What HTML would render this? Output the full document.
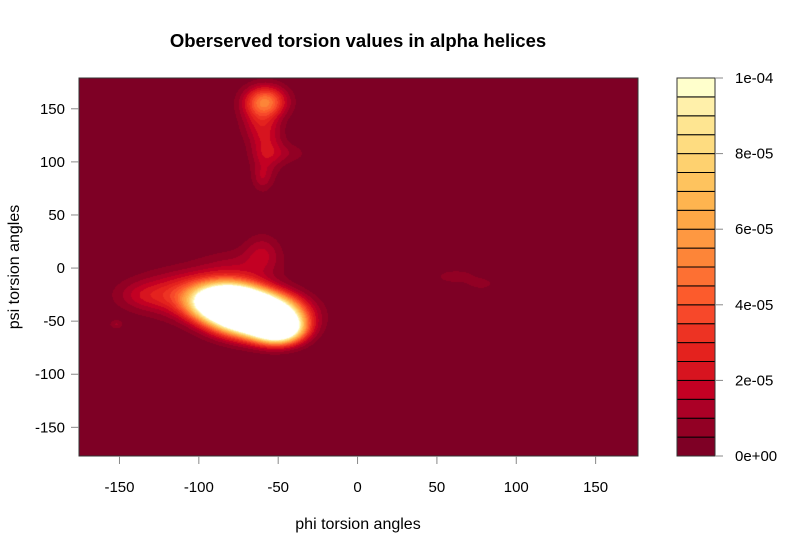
<!DOCTYPE html>
<html><head><meta charset="utf-8"><style>
body{margin:0;background:#fff;}
svg text{font-family:"Liberation Sans",sans-serif;}
</style></head><body>
<div style="position:relative;width:794px;height:555px">
<canvas id="cv" width="559" height="378" style="position:absolute;left:79px;top:78px"></canvas>
<svg id="sv" width="794" height="555" style="position:absolute;left:0;top:0"></svg>
</div>
<script>
// density model components (degrees): centers, spreads, amplitudes
const compPhi = [-82,-64,-50,-105,-135,-152,-60,-75,-58,-62,-56,-46,-60,-60,62,78];
const compPsi = [-32,-44,-57,-24,-26,-53,15,0,157,138,115,108,85,100,-8,-15];
const compSx  = [14,16,10,22,12,3,8,18,9,8,7,11,4,6,10,6];
const compSy  = [11,12,9,14,9,3,12,12,10,14,18,7,8,20,5,4];
const compAmp = [2.0e-4,2.5e-4,1.5e-4,3.0e-5,1.0e-5,1.0e-5,1.3e-5,1.1e-5,4.6e-5,1.6e-5,1.2e-5,8e-6,8e-6,6e-6,8e-6,7e-6];
const levelColors = ['#7E0025','#920024','#AB0026','#C30023','#D7141F','#E4221E','#ED3323','#F7482A','#FC5B2C','#FD7033','#FD8538','#FE9841','#FEA746','#FEB44F','#FEC35E','#FED16F','#FEDC80','#FEE591','#FFF0AA','#FFFFCC'];
const xTicks = [-150,-100,-50,0,50,100,150];
const yTicks = [-150,-100,-50,0,50,100,150];
const legendTicks = [0,2e-5,4e-5,6e-5,8e-5,1e-4];
const legendLabels = ['0e+00','2e-05','4e-05','6e-05','8e-05','1e-04'];
const zMax = 1e-4;

const PL=79,PR=638,PT=78,PB=456, XMIN=-175.5,XMAX=176.7,YMIN=-177,YMAX=179;
const xs=v=>PL+(v-XMIN)/(XMAX-XMIN)*(PR-PL);
const ys=v=>PB-(v-YMIN)/(YMAX-YMIN)*(PB-PT);
function dens(p,q){let s=0;for(let i=0;i<compPhi.length;i++){const a=(p-compPhi[i])/compSx[i],b=(q-compPsi[i])/compSy[i];s+=compAmp[i]*Math.exp(-0.5*(a*a+b*b));}return s;}
function hex(c){return [parseInt(c.slice(1,3),16),parseInt(c.slice(3,5),16),parseInt(c.slice(5,7),16)];}
const rgb=levelColors.map(hex);
const cv=document.getElementById('cv'),ctx=cv.getContext('2d');
const W=cv.width,H=cv.height,img=ctx.createImageData(W,H);
for(let j=0;j<H;j++)for(let i=0;i<W;i++){
  const p=XMIN+(i+0.5)/W*(XMAX-XMIN), q=YMAX-(j+0.5)/H*(YMAX-YMIN);
  const z=dens(p,q); let k=Math.floor(z/zMax*levelColors.length);
  let c=k>=levelColors.length?[255,255,255]:rgb[Math.max(0,k)];
  const o=(j*W+i)*4; img.data[o]=c[0];img.data[o+1]=c[1];img.data[o+2]=c[2];img.data[o+3]=255;}
ctx.putImageData(img,0,0);

const sv=document.getElementById('sv'),NS='http://www.w3.org/2000/svg';
function el(t,a,txt){const e=document.createElementNS(NS,t);for(const k in a)e.setAttribute(k,a[k]);if(txt!==undefined)e.textContent=txt;sv.appendChild(e);return e;}
let e;
e=el('rect',{x:PL,y:PT,width:PR-PL,height:PB-PT,fill:'none',stroke:'#333','stroke-width':1});


xTicks.forEach(v=>{const x=xs(v);
 e=el('line',{x1:x,x2:x,y1:PB,y2:PB+8,stroke:'#888'});
 
 
 e=el('text',{x:x,y:PB+36,'font-size':15,'text-anchor':'middle'},String(v));
 
 });
yTicks.forEach(v=>{const y=ys(v);
 e=el('line',{x1:PL-8,x2:PL,y1:y,y2:y,stroke:'#888'});
 
 
 e=el('text',{x:PL-14,y:y+5,'font-size':15,'text-anchor':'end'},String(v));
 
 });
// legend
const LL=677,LR=715;
levelColors.forEach((c,k)=>{const y1=PB-(k+1)/levelColors.length*(PB-PT),h=(PB-PT)/levelColors.length;
 e=el('rect',{x:LL,y:y1,width:LR-LL,height:h,fill:c,stroke:'#000','stroke-width':1});
 
 });
e=el('rect',{x:LL,y:PT,width:LR-LL,height:PB-PT,fill:'none',stroke:'#333'});


legendTicks.forEach((v,k)=>{const y=PB-v/zMax*(PB-PT);
 e=el('line',{x1:LR,x2:LR+8,y1:y,y2:y,stroke:'#888'});
 
 
 e=el('text',{x:LR+20,y:y+5,'font-size':15},legendLabels[k]);
 
 });
e=el('text',{x:358,y:47,'font-size':18.5,'font-weight':'bold','text-anchor':'middle'},'Oberserved torsion values in alpha helices');


e=el('text',{x:358,y:529,'font-size':16,'text-anchor':'middle'},'phi torsion angles');


e=el('text',{x:19,y:267,'font-size':16,'text-anchor':'middle',transform:'rotate(-90 19 267)'},'psi torsion angles');


</script>
</body></html>
